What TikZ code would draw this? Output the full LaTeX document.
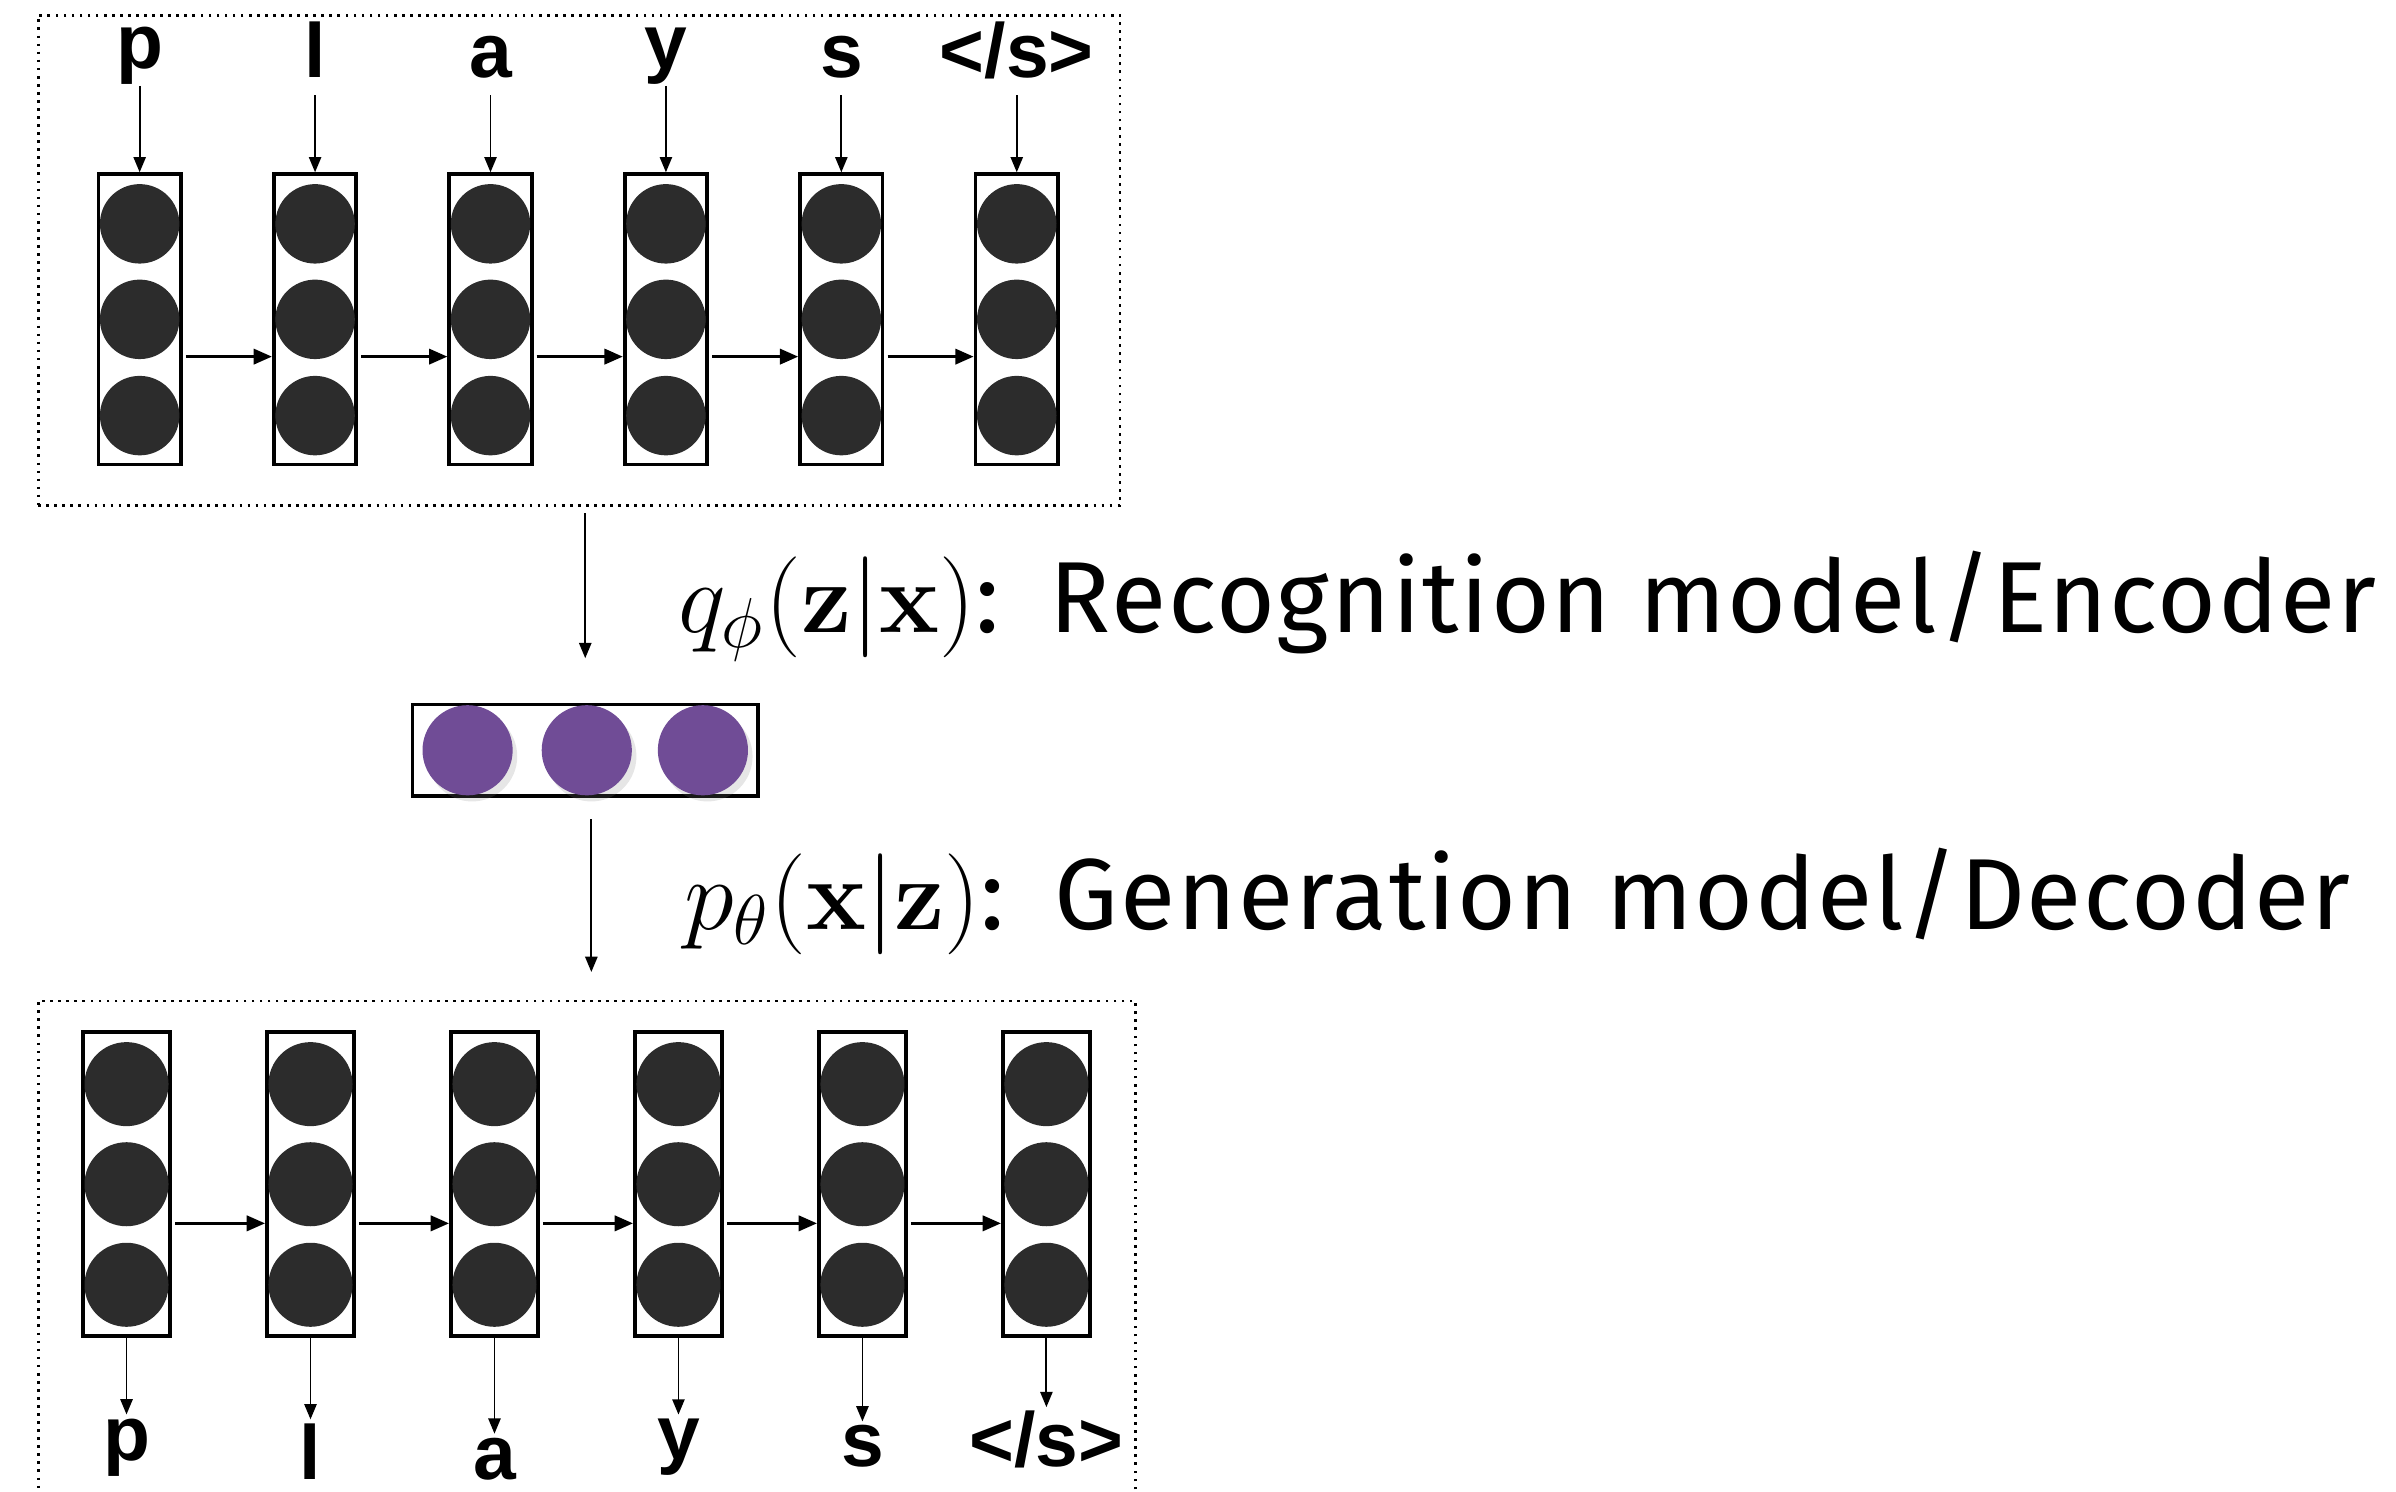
\documentclass[tikz,border=0pt]{standalone}
\usepackage{fix-cm}
\usepackage[no-math]{fontspec}
\setmainfont{Fira Sans}
\newfontfamily\tokfont{Liberation Sans}
\newfontfamily\captionfont{Fira Sans}[LetterSpace=1.8]
\usetikzlibrary{positioning, arrows.meta, calc, shadows}
\definecolor{unitgray}{RGB}{44,44,44}
\definecolor{latentpurple}{RGB}{112,76,150}
\newcommand{\eos}{\textless/s\textgreater}

\begin{document}
\begin{tikzpicture}[
    x=0.1mm, y=-0.1mm,
    frame/.style={draw, densely dotted, line width=0.5pt, inner sep=0},
    cell/.style={rectangle, draw, line width=0.7pt, inner sep=0},
    unit/.style={circle, fill=unitgray, inner sep=0},
    zunit/.style={circle, fill=latentpurple, inner sep=0, minimum size=5.9mm,
        drop shadow={shadow xshift=0.3mm, shadow yshift=-0.4mm, opacity=0.2}},
    tok/.style={font=\tokfont\bfseries\fontsize{14.3}{16}\selectfont, anchor=base},
    arrow/.style={-{Triangle[length=1mm, width=0.8mm]}, line width=0.35pt},
    flow/.style={-{Triangle[length=1.2mm, width=1mm]}, line width=0.55pt},
    caption/.style={anchor=base west, inner sep=0, font=\captionfont\fontsize{18.8}{22}\selectfont}
]
\useasboundingbox (0,0) rectangle (1568,976);

% Parameters
\def\encStep{114.8}
\def\decStep{120.4}

% Encoder
\node[frame, minimum width=70.8mm, minimum height=32.1mm] (encframe) at (379,170.5) {};
\foreach \tok/\base [count=\i] in {p/45, l/51, a/51, y/45, s/51, \eos/51} {
    \node[cell, minimum width=5.4mm, minimum height=19mm] (enc\i) at ({91.4+(\i-1)*\encStep}, 209) {};
    \node[unit, minimum size=5.2mm] (enc\i-1) at ({91.4+(\i-1)*\encStep}, 146.5) {};
    \node[unit, minimum size=5.2mm] (enc\i-2) at ({91.4+(\i-1)*\encStep}, 209) {};
    \node[unit, minimum size=5.2mm] (enc\i-3) at ({91.4+(\i-1)*\encStep}, 272) {};
    \node[tok, text depth=0.25em, inner sep=0.5pt] (in\i) at ({91.4+(\i-1)*\encStep}, \base) {\tok};
    \draw[arrow] (in\i.south) -- (enc\i.north);
}
\foreach \i [evaluate=\i as \next using int(\i+1)] in {1,...,5} {
    \draw[flow, shorten <=0.2mm] ([yshift=-2.44mm]enc\i.east) -- ([yshift=-2.44mm]enc\next.west);
}

% Latent code
\node[cell, minimum width=22.6mm, minimum height=6mm] (latent) at (383,491) {};
\node[zunit] (z1) at (306,491) {};
\node[zunit] (z2) at (384,491) {};
\node[zunit] (z3) at (460,491) {};

% Decoder
\node[frame, minimum width=71.8mm, minimum height=34.5mm] (decframe) at (384,827.5) {};
\foreach \tok/\base [count=\i] in {p/955.5, l/968, a/968, y/955, s/960, \eos/960} {
    \node[cell, minimum width=5.7mm, minimum height=19.9mm] (dec\i) at ({82.8+(\i-1)*\decStep}, 775) {};
    \node[unit, minimum size=5.5mm] (dec\i-1) at ({82.8+(\i-1)*\decStep}, 709.5) {};
    \node[unit, minimum size=5.5mm] (dec\i-2) at ({82.8+(\i-1)*\decStep}, 775) {};
    \node[unit, minimum size=5.5mm] (dec\i-3) at ({82.8+(\i-1)*\decStep}, 840.8) {};
    \node[tok, inner sep=0] (out\i) at ({82.8+(\i-1)*\decStep}, \base) {\tok};
    \draw[arrow, shorten >=0.2mm] (dec\i.south) -- (out\i.north);
}
\foreach \i [evaluate=\i as \next using int(\i+1)] in {1,...,5} {
    \draw[flow, shorten <=0.2mm] ([yshift=-2.56mm]dec\i.east) -- ([yshift=-2.56mm]dec\next.west);
}

% Encoder and decoder arrows with captions
\draw[arrow, shorten <=0.4mm, shorten >=2.9mm] (encframe.south -| latent) -- (latent.north);
\draw[arrow, shorten <=1.4mm, shorten >=1.8mm] ([xshift=0.4mm]latent.south) -- ([xshift=0.4mm]latent.south |- decframe.north);
\node[caption] (enclabel) at (443,414) {$q_\phi(\mathbf{z}|\mathbf{x})$:\hspace{0.12em} Recognition model/Encoder};
\node[caption] (declabel) at (447,608) {$p_\theta(\mathbf{x}|\mathbf{z})$:\hspace{0.12em} Generation model/Decoder};

\end{tikzpicture}
\end{document}
